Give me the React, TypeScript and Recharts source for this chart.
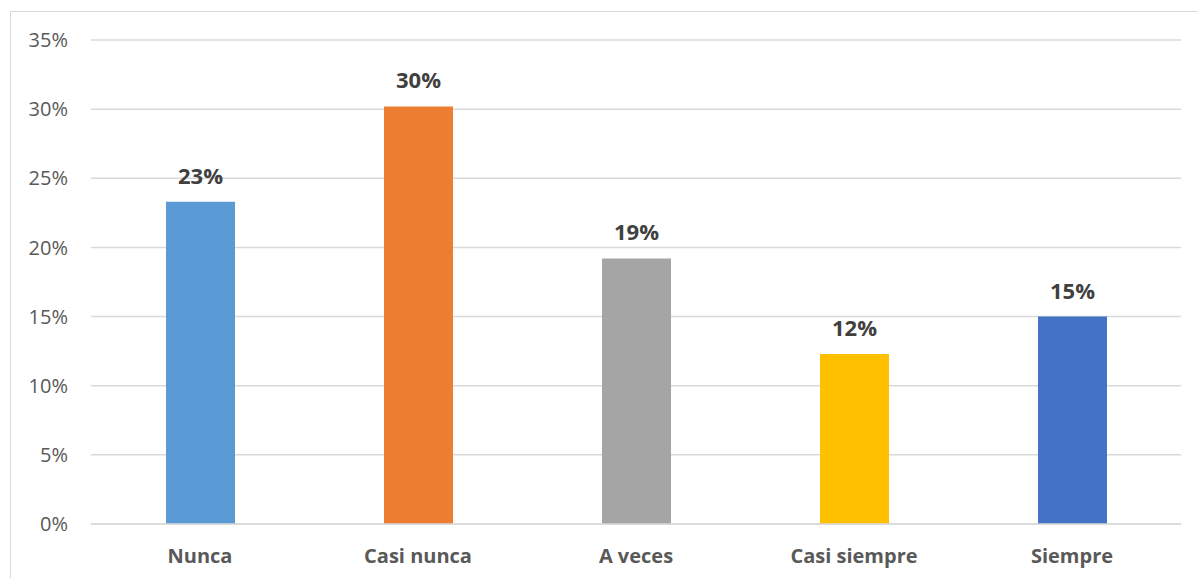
import React from 'react';
import { BarChart, Bar, XAxis, YAxis, CartesianGrid, LabelList, Cell } from 'recharts';

const categories = ['Nunca', 'Casi nunca', 'A veces', 'Casi siempre', 'Siempre'];
const percents = [23.3, 30.2, 19.2, 12.3, 15.0];
const barColors = ['#5B9BD5', '#ED7D31', '#A5A5A5', '#FFC000', '#4472C4'];
const yTicks = [0, 5, 10, 15, 20, 25, 30, 35];

const data = categories.map((name, i) => ({ name, value: percents[i] }));

const font = '"Open Sans", "Liberation Sans", sans-serif';

export default function App() {
  return (
    <div
      style={{
        position: 'absolute',
        left: 10,
        top: 11,
        width: 1188,
        height: 567,
        borderLeft: '1px solid #d9d9d9',
        borderTop: '1px solid #d9d9d9',
        background: '#fff',
      }}
    >
      <BarChart
        width={1187}
        height={566}
        data={data}
        margin={{ top: 28, right: 17, left: 0, bottom: 0 }}
        style={{ fontFamily: font }}
      >
        <CartesianGrid vertical={false} stroke="#d9d9d9" strokeWidth={1.5} />
        <XAxis
          dataKey="name"
          height={54}
          tickLine={false}
          tickSize={0}
          tickMargin={25}
          axisLine={{ stroke: '#d9d9d9', strokeWidth: 1.5 }}
          tick={{ fill: '#595959', fontSize: 20, fontWeight: 700 }}
        />
        <YAxis
          width={80}
          domain={[0, 35]}
          ticks={yTicks}
          interval={0}
          tickLine={false}
          axisLine={false}
          tickSize={0}
          tickMargin={23}
          tickFormatter={(v) => `${v}%`}
          tick={{ fill: '#595959', fontSize: 20 }}
        />
        <Bar dataKey="value" barSize={69} isAnimationActive={false}>
          {data.map((d, i) => (
            <Cell key={d.name} fill={barColors[i]} />
          ))}
          <LabelList
            dataKey="value"
            position="top"
            offset={18}
            formatter={(v: number) => `${Math.round(v)}%`}
            style={{ fill: '#404040', fontSize: 22, fontWeight: 700, fontFamily: font }}
          />
        </Bar>
      </BarChart>
    </div>
  );
}
